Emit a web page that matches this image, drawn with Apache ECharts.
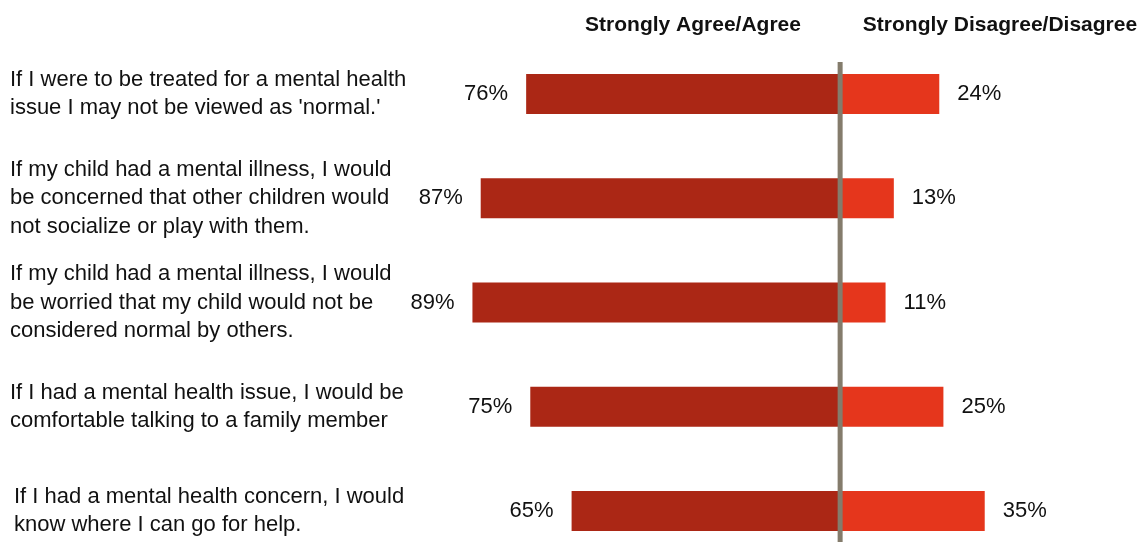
<!DOCTYPE html>
<html>
<head>
<meta charset="utf-8">
<script src="https://cdn.jsdelivr.net/npm/echarts@6/dist/echarts.min.js"></script>
<style>
  html, body { margin: 0; padding: 0; background: #fff; }
  #chart { width: 1147px; height: 542px; }
</style>
</head>
<body>
<div id="chart"></div>
<script>
// Survey statements, top to bottom
const statements = [
  "If I were to be treated for a mental health\nissue I may not be viewed as 'normal.'",
  "If my child had a mental illness, I would\nbe concerned that other children would\nnot socialize or play with them.",
  "If my child had a mental illness, I would\nbe worried that my child would not be\nconsidered normal by others.",
  "If I had a mental health issue, I would be\ncomfortable talking to a family member",
  "If I had a mental health concern, I would\nknow where I can go for help."
];
// Share of respondents (%)
const agreeValues = [76, 87, 89, 75, 65];
const disagreeValues = [24, 13, 11, 25, 35];
const headerAgree = 'Strongly Agree/Agree';
const headerDisagree = 'Strongly Disagree/Disagree';

const FONT = '"Liberation Sans", Arial, sans-serif';

const labelBase = {
  align: 'left',
  color: '#111',
  fontFamily: FONT,
  fontSize: 22,
  lineHeight: 28.5
};
// per-row label nudges
const labelPadding = [null, null, null, null, [0, 0, 40, 4]];

const chart = echarts.init(document.getElementById('chart'));

const option = {
  animation: false,
  backgroundColor: '#ffffff',
  grid: {
    left: 427, top: 42, width: 661, height: 521,
    containLabel: false, outerBoundsMode: 'none'
  },
  xAxis: {
    type: 'value', min: -100, max: 60, show: false
  },
  yAxis: {
    type: 'category',
    inverse: true,
    data: statements.map((s, i) => labelPadding[i]
      ? { value: s, textStyle: Object.assign({}, labelBase, { padding: labelPadding[i] }) }
      : s),
    axisLine: { show: false },
    axisTick: { show: false },
    splitLine: { show: false },
    axisLabel: Object.assign({ margin: 417 }, labelBase)
  },
  series: [
    {
      name: headerAgree,
      type: 'bar',
      barWidth: 40,
      barGap: '-100%',
      data: agreeValues.map(v => -v),
      itemStyle: { color: '#ab2715' },
      label: {
        show: true, position: 'left', distance: 18,
        formatter: p => Math.abs(p.value) + '%',
        color: '#111', fontFamily: FONT, fontSize: 22
      }
    },
    {
      name: headerDisagree,
      type: 'bar',
      barWidth: 40,
      data: disagreeValues,
      itemStyle: { color: '#e5361c' },
      label: {
        show: true, position: 'right', distance: 18,
        formatter: p => p.value + '%',
        color: '#111', fontFamily: FONT, fontSize: 22
      }
    }
  ]
};
chart.setOption(option);

// zero divider and column headers
const x0 = chart.convertToPixel({ xAxisIndex: 0 }, 0);
chart.setOption({
  graphic: [
    {
      type: 'rect', z: 10,
      shape: { x: x0 - 2.5, y: 62, width: 5, height: 480 },
      style: { fill: '#847c6c' }
    },
    {
      type: 'text',
      style: {
        text: headerAgree, x: 693, y: 25, align: 'center', verticalAlign: 'middle',
        font: 'bold 21px ' + FONT, fill: '#111'
      }
    },
    {
      type: 'text',
      style: {
        text: headerDisagree, x: 1000, y: 25, align: 'center', verticalAlign: 'middle',
        font: 'bold 21px ' + FONT, fill: '#111'
      }
    }
  ]
});
</script>
</body>
</html>
